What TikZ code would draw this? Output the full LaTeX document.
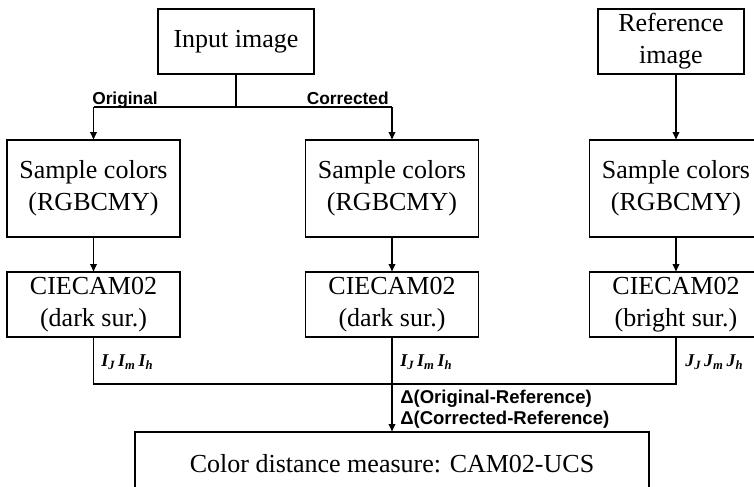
\documentclass[tikz,border=0pt]{standalone}
\usepackage{fontspec}
\setmainfont{Liberation Serif}
\newfontfamily\lblfont{Liberation Sans}
\usetikzlibrary{arrows.meta}
\tikzset{
  box/.style={draw, line width=0.9pt, inner sep=0pt, align=center,
    font=\fontsize{19.5}{24}\selectfont, minimum width=129.75pt},
  tallbox/.style={box, minimum height=72.75pt},
  shortbox/.style={box, minimum height=48.75pt},
  wire/.style={line width=0.9pt},
  arr/.style={wire, -{Triangle[length=5.5pt,width=5pt]}},
  brlabel/.style={font=\lblfont\bfseries\fontsize{13}{15}\selectfont, inner sep=0pt},
  dlabel/.style={font=\lblfont\bfseries\fontsize{13.9}{16}\selectfont, inner sep=0pt},
  qlabel/.style={font=\bfseries\itshape\fontsize{13.5}{15}\selectfont, inner sep=0pt}
}
\begin{document}
\begin{tikzpicture}[x=0.75pt,y=-0.75pt]
\useasboundingbox (0,0) rectangle (754,486);
\begin{scope}
\clip (0,0) rectangle (754,486);
% top boxes
\node[shortbox, minimum width=117pt] (inp) at (236,41.5) {Input image};
\node[shortbox, minimum width=109.5pt] (ref) at (671,41.5) {Reference\\image};
% sample boxes
\node[tallbox] (s1) at (93.5,188.5) {Sample colors\\(RGBCMY)};
\node[tallbox] (s2) at (392,188.5) {Sample colors\\(RGBCMY)};
\node[tallbox] (s3) at (676,188.5) {Sample colors\\(RGBCMY)};
% CIECAM boxes
\node[shortbox] (c1) at (93.5,304.5) {CIECAM02\\(dark sur.)};
\node[shortbox] (c2) at (392,304.5) {CIECAM02\\(dark sur.)};
\node[shortbox] (c3) at (676,304.5) {CIECAM02\\(bright sur.)};
% bottom box
\node[box, minimum width=385.5pt, minimum height=48pt] (out) at (392,464) {Color distance measure: CAM02-UCS};
% branch
\coordinate (bM) at (236,107);
\coordinate (bL) at (93.5,107);
\coordinate (bR) at (392,107);
\draw[wire] (inp.south) -- (bM);
\draw[wire] (bL) -- (bR);
\draw[arr] (bL) -- (s1.north);
\draw[arr] (bR) -- (s2.north);
\draw[arr] (s3.north |- ref.south) -- (s3.north);
\node[brlabel, anchor=base west] (lo) at (92,104) {Original};
\node[brlabel, anchor=base east] (lc) at (389,104) {Corrected};
% to CIECAM
\draw[arr] (s1.south) -- (c1.north);
\draw[arr] (s2.south) -- (c2.north);
\draw[arr] (s3.south) -- (c3.north);
% join
\coordinate (jL) at (93.5,384);
\coordinate (jR) at (676,384);
\draw[wire] (c1.south) -- (jL) -- (jR) -- (c3.south);
\draw[arr] (c2.south) -- (out.north);
\node[qlabel, anchor=west] (q1) at (101,362) {I\textsubscript{J}\,I\textsubscript{m}\,I\textsubscript{h}};
\node[qlabel, anchor=west] (q2) at (400,362) {I\textsubscript{J}\,I\textsubscript{m}\,I\textsubscript{h}};
\node[qlabel, anchor=west] (q3) at (685,362) {J\textsubscript{J}\,J\textsubscript{m}\,J\textsubscript{h}};
\node[dlabel, anchor=base west] (d1) at (400,403) {Δ(Original-Reference)};
\node[dlabel, anchor=base west] (d2) at (400,424) {Δ(Corrected-Reference)};
\end{scope}
\end{tikzpicture}
\end{document}
